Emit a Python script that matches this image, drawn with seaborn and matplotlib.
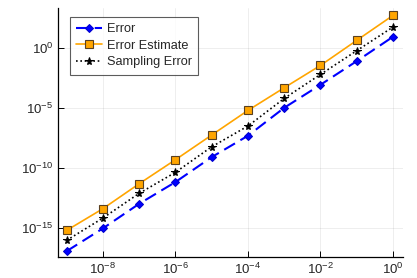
import numpy as np
import pandas as pd
import matplotlib
matplotlib.use("Agg")
import matplotlib.pyplot as plt
import seaborn as sns

# step sizes
h = [1e-9, 1e-8, 1e-7, 1e-6, 1e-5, 1e-4, 1e-3, 1e-2, 1e-1, 1e0]

# log10 of the errors
err_log = [-16.9, -15.0, -12.95, -11.14, -9.06, -7.28, -4.95, -3.03, -1.06, 0.97]
est_log = [-15.17, -13.36, -11.28, -9.28, -7.22, -5.17, -3.28, -1.42, 0.67, 2.75]
samp_log = [-16.0, -14.14, -12.08, -10.33, -8.2, -6.47, -4.17, -2.17, -0.19, 1.78]

xticks = [1e-8, 1e-6, 1e-4, 1e-2, 1e0]
yticks = [1e-15, 1e-10, 1e-5, 1e0]

df = pd.DataFrame({
    "h": h * 3,
    "value": [10.0 ** v for v in err_log + est_log + samp_log],
    "series": ["Error"] * 10 + ["Error Estimate"] * 10 + ["Sampling Error"] * 10,
})

sns.set_style("white")
plt.rcParams["font.family"] = ["Liberation Sans", "DejaVu Sans"]
plt.rcParams["mathtext.fontset"] = "custom"
plt.rcParams["mathtext.rm"] = "Liberation Sans"
plt.rcParams["mathtext.it"] = "Liberation Sans:italic"

fig, ax = plt.subplots(figsize=(4.17, 2.78), dpi=100)
fig.subplots_adjust(left=0.138, right=0.966, top=0.971, bottom=0.074)

styles = {
    "Error": dict(color="#0000ff", marker="D", markersize=3.8, linestyle=(0, (6, 3)),
                  markeredgecolor="#0000cc", linewidth=1.5),
    "Error Estimate": dict(color="#ffa500", marker="s", markersize=5.3, linestyle="-",
                           markeredgecolor="#5a4020", markeredgewidth=0.8, linewidth=1.2),
    "Sampling Error": dict(color="black", marker="*", markersize=5.8, linestyle=(0, (1, 1.6)),
                           markeredgecolor="black", linewidth=1.2),
}

for name, kw in styles.items():
    sub = df[df["series"] == name]
    sns.lineplot(data=sub, x="h", y="value", ax=ax, label=name, **kw)

ax.set_xscale("log")
ax.set_yscale("log")
ax.set_xlim(10 ** -9.25, 10 ** 0.27)
ax.set_ylim(10 ** -17.42, 10 ** 3.36)
ax.set_xticks(xticks)
ax.set_yticks(yticks)
ax.minorticks_off()
ax.set_xlabel("")
ax.set_ylabel("")

ax.grid(True, color="#000000", alpha=0.08, linewidth=0.6)
for s in ["top", "right"]:
    ax.spines[s].set_visible(False)
for s in ["left", "bottom"]:
    ax.spines[s].set_color("black")
    ax.spines[s].set_linewidth(0.9)
ax.tick_params(direction="in", length=4, width=0.7, color="black", labelsize=9.5,
               left=True, bottom=True, pad=3)

leg = ax.legend(loc="upper left", bbox_to_anchor=(0.025, 0.98), fontsize=9.2,
                frameon=True, fancybox=False, edgecolor="#333333", borderpad=0.5,
                handlelength=2.0, handletextpad=0.4, labelspacing=0.35, borderaxespad=0.3)
leg.get_frame().set_linewidth(0.8)

fig.savefig("out.png", dpi=100)
